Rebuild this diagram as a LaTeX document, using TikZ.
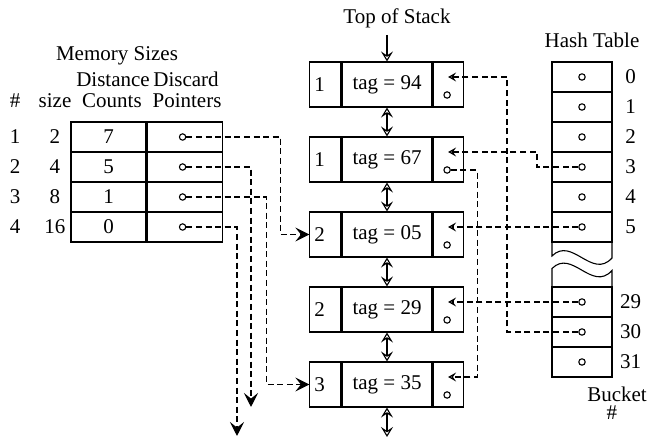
\documentclass[tikz,border=0pt]{standalone}
\usepackage{fontspec}
\setmainfont{Liberation Serif}
\usetikzlibrary{shapes,arrows.meta,positioning}
\tikzstyle{Cell} = [draw, rectangle, inner sep=0pt, minimum height=15pt]
\tikzstyle{Count} = [Cell, minimum width=37.5pt]
\tikzstyle{NumCell} = [Cell, minimum width=15.5pt, minimum height=22.5pt, text width=11pt, align=left]
\tikzstyle{TagCell} = [Cell, minimum width=45pt, minimum height=22.5pt]
\tikzstyle{PtrCell} = [Cell, minimum width=15pt, minimum height=22.5pt]
\tikzstyle{Bucket} = [Cell, minimum width=30pt]
\tikzstyle{Dot} = [draw, circle, inner sep=0pt, minimum size=3.2pt]
\tikzstyle{Link} = [dash pattern=on 3pt off 1.8pt]
\tikzstyle{Dbl} = [{Stealth[open,length=5pt,width=6pt,inset=2pt]}-{Stealth[open,length=5pt,width=6pt,inset=2pt]}]
\tikzstyle{Into} = [-{Stealth[open,length=4pt,width=4.5pt,inset=1.6pt]}]
\tikzstyle{Jump} = [-{Stealth[length=7pt,width=7pt,inset=2.8pt]}]

\begin{document}
\begin{tikzpicture}[x=0.5pt, y=-0.5pt, line width=0.55pt, font=\fontsize{10.5}{12}\selectfont]
    \useasboundingbox (0,0) rectangle (650,438);

    % memory sizes
    \node (msz) at (117,56) {Memory Sizes};
    \node[anchor=base] (dst) at (113,87) {Distance};
    \node[anchor=base] (dsc) at (186,87) {Discard};
    \node[anchor=base] (hnr) at (15,108) {\#};
    \node[anchor=base] (hsz) at (55,108) {size};
    \node[anchor=base] (hcn) at (112,108) {Counts};
    \node[anchor=base] (hpt) at (187,108) {Pointers};
    \foreach \i/\s/\c in {1/2/7,2/4/5,3/8/1,4/16/0} {
        \node[Count] (cnt\i) at (108.5,107+30*\i) {\c};
        \node[Count] (ptr\i) [right=0pt of cnt\i] {};
        \node[Dot]   (m\i)   at ([xshift=-1pt]ptr\i.center) {};
        \node        (r\i)   at (15,107+30*\i) {\i};
        \node        (z\i)   at (55,107+30*\i) {\s};
    }

    % stack
    \node (tos) at (397,18) {Top of Stack};
    \foreach \i/\n/\t in {1/1/94,2/1/67,3/2/05,4/2/29,5/3/35} {
        \node[TagCell] (t\i) at (387,9.5+75*\i) {tag = \t};
        \node[NumCell] (n\i) [left=0pt of t\i]  {\n};
        \node[PtrCell] (p\i) [right=0pt of t\i] {};
        \node[Dot]     (c\i) at ([shift={(-1,10.5)}]p\i.center) {};
        \coordinate    (a\i) at ([shift={(0,-7.5)}]p\i.center);
    }
    \coordinate (bot) at (387,437);
    \draw[-{Stealth[open,length=5pt,width=6pt,inset=2pt]}] (t1.north |- tos.south) -- (t1.north);
    \foreach \i [count=\j from 2] in {1,...,4}
        \draw[Dbl] (t\i.south) -- (t\j.north);
    \draw[Dbl] (t5.south) -- (bot);

    % hash table
    \node (hsh) at (592,40) {Hash Table};
    \foreach \i/\y in {0/77,1/107,2/137,3/167,4/197,5/227,29/302,30/332,31/362} {
        \node[Bucket] (b\i) at (582,\y) {};
        \node[Dot]    (h\i) at (b\i.center) {};
        \node         (k\i) at ([xshift=9pt]b\i.east) {\i};
    }
    \draw (552,242) -- (552,256) .. controls (572,236) and (592,280) .. (612,258) -- (612,242);
    \draw (552,287) -- (552,268.5) .. controls (572,248.5) and (592,292.5) .. (612,270.5) -- (612,287);
    \node[inner sep=0.5pt] (bkt) at (617,394) {Bucket};
    \node[inner sep=0.5pt] (bnr) at (612,413) {\#};

    % hash chains
    \draw[Link,Into] (h30) -- ++(-75,0) |- (a1);
    \draw[Link,Into] (h3)  -- ++(-45,0) |- (a2);
    \draw[Link,Into] (h5)  -- (a3);
    \draw[Link,Into] (h29) -- (a4);
    \draw[Link,Into] (c2)  -- ++(30,0) |- (a5);

    % discard pointers
    \coordinate (end2) at (251,407);
    \coordinate (end4) at (237,436);
    \draw[Link,Jump] (m1) -- ++(98,0) |- (n3.west);
    \draw[Link,Jump] (m2) -| (end2);
    \draw[Link,Jump] (m3) -- ++(84,0) |- (n5.west);
    \draw[Link,Jump] (m4) -| (end4);
\end{tikzpicture}
\end{document}
